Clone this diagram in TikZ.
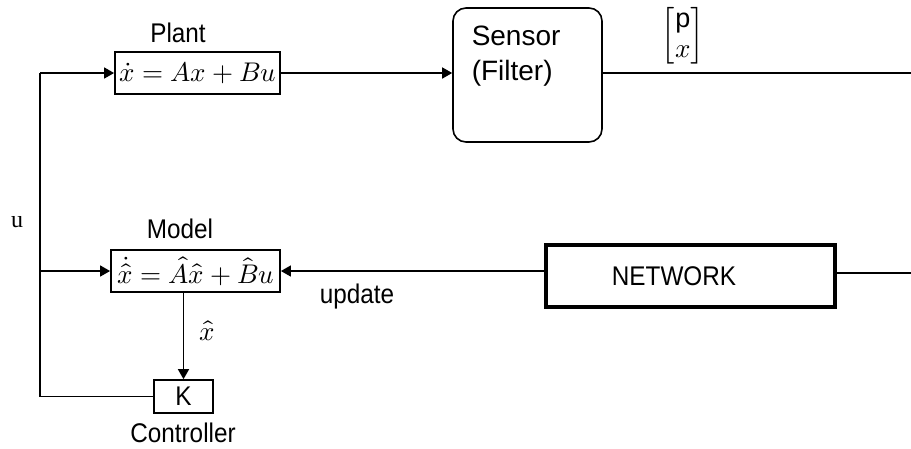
\documentclass[tikz,border=0pt]{standalone}
\usepackage{amsmath}
\usepackage{graphicx}
\usepackage{fontspec}
\usepackage{unicode-math}
\setmainfont{Liberation Sans}
\setmathfont{Latin Modern Math}
\newfontfamily\serifu{Liberation Serif}
\newcommand\narrowtxt[1]{\scalebox{0.9}[1]{#1}}
\usetikzlibrary{arrows.meta}
\begin{document}
\begin{tikzpicture}[x=1pt,y=-1pt,
  line width=1.5pt,
  arr/.style={-{Triangle[length=10pt,width=11pt]}},
  blk/.style={draw,line width=1.8pt,inner sep=0pt,minimum height=42pt},
  lbl/.style={inner sep=0pt,font=\fontsize{27}{30}\selectfont},
  eqf/.style={font=\fontsize{27}{32}\selectfont}
]
\useasboundingbox (0,0) rectangle (911,448);
% plant
\node[blk,eqf,minimum width=165pt] (plant) at (197.5,73) {$\dot{x}=Ax+Bu$};
\node[lbl] (plantlbl) at (178,33) {\narrowtxt{Plant}};
% sensor
\node[draw,line width=1.6pt,rounded corners=13pt,minimum width=149pt,minimum height=134pt,inner sep=0pt] (sensor) at (527.5,75) {};
\node[inner sep=0pt,anchor=north west,align=left,font=\fontsize{28}{35}\selectfont] (sensortxt) at (471,25) {Sensor\\(Filter)};
\coordinate (outtop) at (911,73);
\node[inner sep=0pt,font=\fontsize{27}{30}\selectfont] (pxlbl) at (683,36) {$\begin{bmatrix}\mathrm{p}\\ x\end{bmatrix}$};
% model
\node[blk,eqf,minimum width=169pt] (model) at (195.5,271) {$\dot{\hat{x}}=\hat{A}\hat{x}+\hat{B}u$};
\node[lbl] (modellbl) at (180,229) {\narrowtxt{Model}};
% network
\node[draw,line width=4pt,minimum width=289pt,minimum height=62pt,inner sep=0pt] (net) at (690.5,276) {};
\node[lbl] (nettxt) at (674,276) {\narrowtxt{NETWORK}};
\coordinate (outbot) at (911,273);
\node[lbl] (upd) at (357,297) {\narrowtxt{update}};
% controller
\node[draw,line width=1.6pt,minimum width=59pt,minimum height=33pt,inner sep=0pt,font=\fontsize{27}{30}\selectfont] (K) at (183.5,396.5) {\narrowtxt{K}};
\node[lbl] (ctrl) at (183,433) {\narrowtxt{Controller}};
\node[inner sep=0pt,font=\fontsize{27}{30}\selectfont] (xhat) at (207,331) {$\hat{x}$};
\node[inner sep=0pt,font=\serifu\fontsize{24}{28}\selectfont] (ulbl) at (17,222) {u};
% loop coordinates
\coordinate (lb) at (40,400);
\coordinate (lt) at (40,73);
% connectors
\draw[arr] (lt) -- (plant.west);
\draw[arr] (plant.east) -- (plant.east -| sensor.west);
\draw (plant.east -| sensor.east) -- (outtop);
\draw (net.east |- outbot) -- (outbot);
\draw[arr] (net.west |- model.east) -- (model.east);
\draw[arr] (K.north |- model.south) -- (K.north);
\draw (K.west) -- (K.west -| lb) -- (lt);
\draw[arr] (lb |- model.west) -- (model.west);
\end{tikzpicture}
\end{document}
